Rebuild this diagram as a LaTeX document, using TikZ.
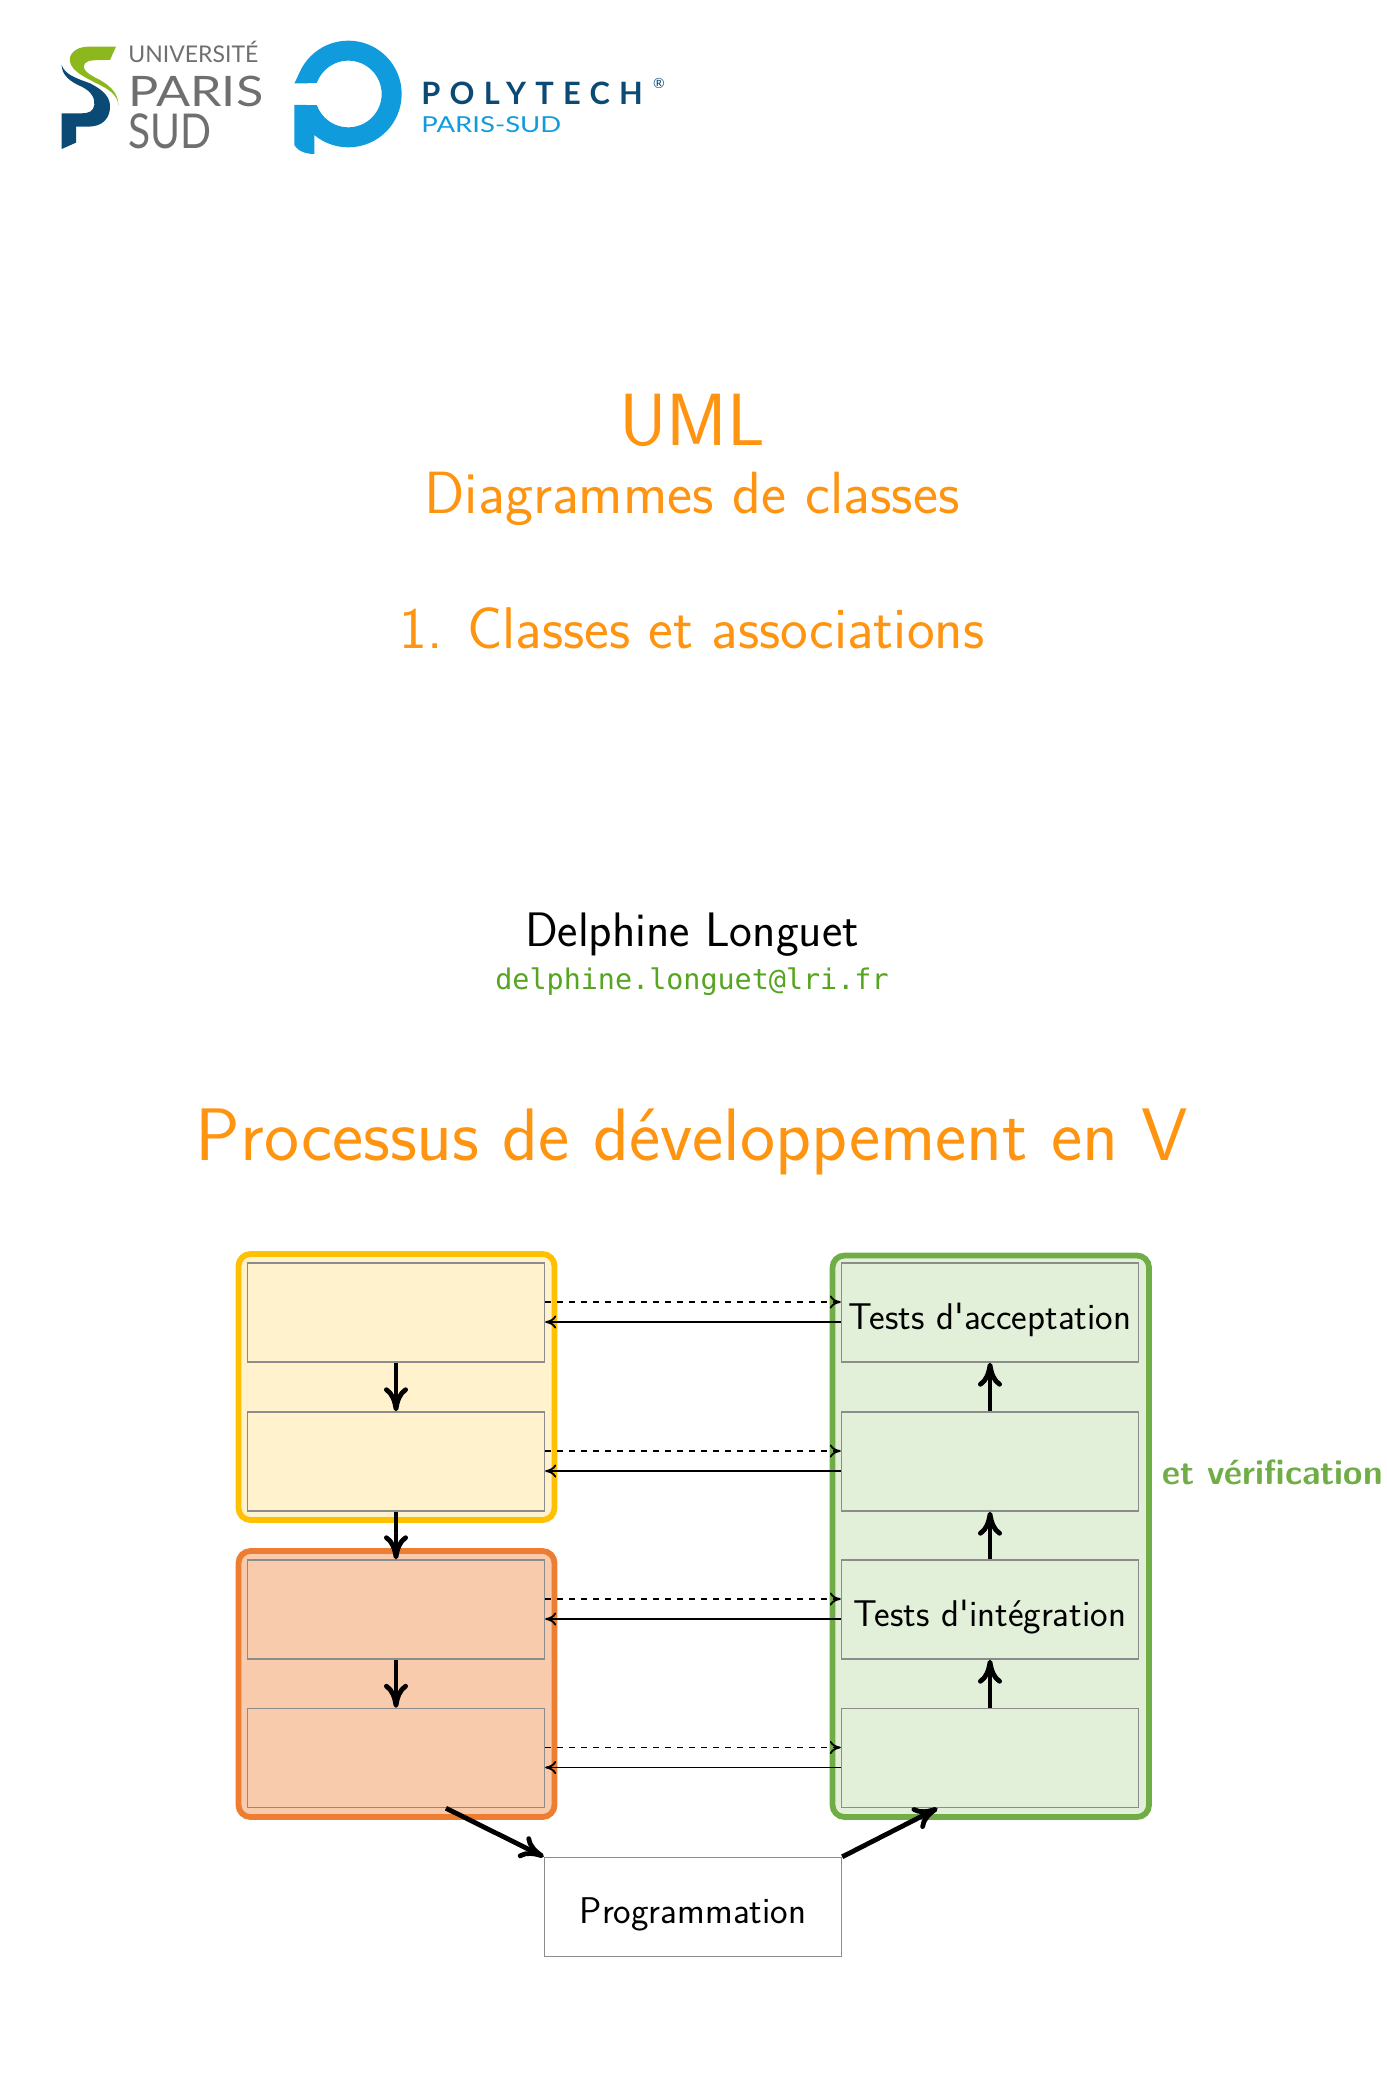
\documentclass[tikz,border=0pt]{standalone}
\usepackage{fontspec}
\usetikzlibrary{arrows.meta}
\newfontfamily\logofont{Lato}
\newfontfamily\techfont[LetterSpace=30]{Lato}
\newfontfamily\mailfont{DejaVu Sans Mono}
\renewcommand{\familydefault}{\sfdefault}

\definecolor{titleorange}{HTML}{FF9411}
\definecolor{mailgreen}{HTML}{55A520}
\definecolor{logogray}{HTML}{6E6F71}
\definecolor{logogreen}{HTML}{8CB81E}
\definecolor{logonavy}{HTML}{0B4A75}
\definecolor{logocyan}{HTML}{0F9BDC}
\definecolor{yellowline}{HTML}{FFC000}
\definecolor{yellowfill}{HTML}{FFF2CC}
\definecolor{orangeline}{HTML}{ED7D31}
\definecolor{orangefill}{HTML}{F8CBAD}
\definecolor{greenline}{HTML}{70AD47}
\definecolor{greenfill}{HTML}{E2F0D9}
\definecolor{boxline}{HTML}{8C8C8C}

\tikzset{
 x=0.5pt,y=-0.5pt,
 group/.style={line width=2.9pt,rounded corners=6pt},
 stepbox/.style={draw=boxline,line width=0.7pt,minimum width=148.5pt,minimum height=49.5pt,inner sep=0pt,text height=16.5pt,text depth=0pt,font=\fontsize{18.6}{20}\selectfont},
 thin arrow/.style={line width=0.9pt,-{Computer Modern Rightarrow[length=5.5pt,width=6.5pt]}},
 thick arrow/.style={line width=2.4pt,-{Computer Modern Rightarrow[length=12pt,width=12pt]}},
 logotext/.style={text=logogray,anchor=base west,inner sep=0pt},
 title/.style={text=titleorange,inner sep=0pt},
}

\begin{document}
\begin{tikzpicture}
\useasboundingbox (0,0) rectangle (1386,2080);

\begin{scope}[shift={(50,30)},x=0.16667pt,y=-0.16667pt] %paris-sud
 \fill[logonavy] (35,105) .. controls (35,135) and (60,155) .. (95,170) .. controls (125,185) and (135,205) .. (133,225) .. controls (130,245) and (115,250) .. (95,250) -- (35,250) -- (35,357) -- (78,338) -- (78,290) -- (115,290) .. controls (160,290) and (182,262) .. (180,225) .. controls (178,195) and (150,175) .. (120,160) .. controls (80,145) and (45,135) .. (35,105);
 \fill[logogreen] (198,50) -- (115,50) .. controls (75,50) and (55,75) .. (60,95) .. controls (65,125) and (110,145) .. (150,165) .. controls (190,185) and (205,205) .. (205,228) .. controls (207,195) and (185,170) .. (150,150) .. controls (120,135) and (92,120) .. (105,100) .. controls (115,90) and (130,90) .. (180,90) -- cycle;
\end{scope}
\node[logotext,font=\logofont\fontsize{11.5}{12}\selectfont] (univ) at (128,63) {UNIVERSITÉ};
\node[logotext,font=\logofont\fontsize{21}{21}\selectfont] (paris) at (128,107) {\scalebox{1.2}[1]{PARIS}};
\node[logotext,font=\logofont\fontsize{24}{24}\selectfont] (sud) at (128,149) {\scalebox{0.85}[1]{SUD}};

\begin{scope}[shift={(280,30)},x=0.16667pt,y=-0.16667pt] %polytech
 \fill[logocyan,even odd rule] (205,192) circle (26.67pt) (205,192) circle (16.67pt);
 \fill[white] (38,160) rectangle (110,225);
 \fill[logocyan] (43,225) -- (43,345) .. controls (55,365) and (80,372) .. (103,372) -- (103,300) -- (80,225) -- cycle;
 \fill[logocyan] (43,160) -- (62,122) -- (85,160) -- cycle;
\end{scope}
\node[text=logonavy,anchor=base west,inner sep=0pt,font=\techfont\bfseries\fontsize{15.4}{15}\selectfont] (poly) at (421,105) {POLYTECH};
\node[text=logonavy,anchor=center,inner sep=0pt,font=\logofont\fontsize{7}{7}\selectfont] (reg) at (659,83) {®};
\node[text=logocyan,anchor=base west,inner sep=0pt,font=\logofont\fontsize{11}{12}\selectfont] (psud) at (421,133) {\scalebox{1.25}[1]{PARIS-SUD}};

\node[title,font=\fontsize{37}{38}\selectfont] (uml) at (692,420) {UML};
\node[title,font=\fontsize{29.8}{30}\selectfont] (diag) at (692,499) {Diagrammes de classes};
\node[title,font=\fontsize{29.4}{30}\selectfont] (part) at (692,628) {1. Classes et associations};
\node[inner sep=0pt,font=\fontsize{24.2}{25}\selectfont] (name) at (692,935) {Delphine Longuet};
\node[text=mailgreen,inner sep=0pt,font=\mailfont\fontsize{14.2}{15}\selectfont] (mail) at (692,982) {delphine.longuet@lri.fr};
\node[title,font=\fontsize{37.2}{38}\selectfont] (frame) at (692,1142) {Processus de développement en V};

\draw[group,draw=yellowline,fill=yellowfill] (238.5,1254) rectangle (554.5,1520);
\draw[group,draw=orangeline,fill=orangefill] (238.5,1551) rectangle (554.5,1817);
\draw[group,draw=greenline,fill=greenfill] (832.5,1255.5) rectangle (1149,1817);

\node[stepbox,fill=yellowfill] (ya) at (396,1312.5) {};
\node[stepbox,fill=yellowfill] (yb) at (396,1461.5) {};
\node[stepbox,fill=orangefill] (oa) at (396,1609.5) {};
\node[stepbox,fill=orangefill] (ob) at (396,1758) {};
\node[stepbox,fill=greenfill] (ga) at (990,1312.5) {Tests d\textquotesingle acceptation};
\node[stepbox,fill=greenfill] (gb) at (990,1461.5) {};
\node[stepbox,fill=greenfill] (gc) at (990,1609.5) {Tests d\textquotesingle intégration};
\node[stepbox,fill=greenfill] (gd) at (990,1758) {};
\node[stepbox] (prog) at (693,1907) {Programmation};

\node[text=greenline,anchor=west,inner sep=0pt,font=\bfseries\fontsize{17.5}{18}\selectfont] (verif) at (1162,1472) {et vérification};

\foreach \lbox/\rbox in {ya/ga,yb/gb,oa/gc,ob/gd} {
 \draw[thin arrow,dashed] ([yshift=5.25pt]\lbox.east) -- ([yshift=5.25pt]\rbox.west);
 \draw[thin arrow] ([yshift=-4.75pt]\rbox.west) -- ([yshift=-4.75pt]\lbox.east);
}

\foreach \from/\to in {ya/yb,yb/oa,oa/ob}
 \draw[thick arrow] (\from.south) -- (\to.north);
\foreach \from/\to in {gd/gc,gc/gb,gb/ga}
 \draw[thick arrow] (\from.north) -- (\to.south);

\draw[thick arrow] ([xshift=25pt]ob.south) -- (prog.north west);
\draw[thick arrow] (prog.north east) -- ([xshift=-26.25pt]gd.south);

\end{tikzpicture}
\end{document}
